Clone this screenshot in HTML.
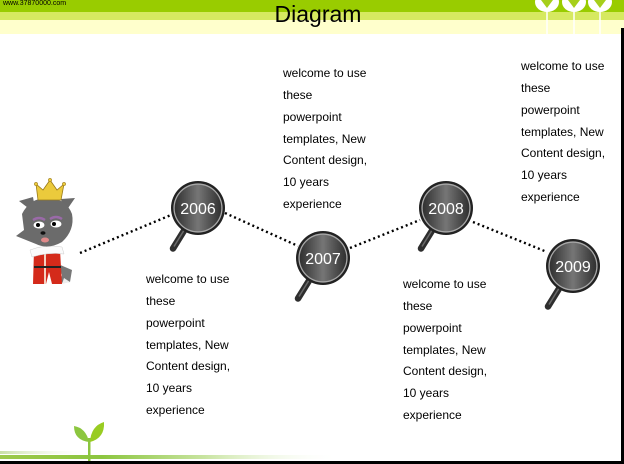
<!DOCTYPE html>
<html>
<head>
<meta charset="utf-8">
<style>
  html,body{margin:0;padding:0;background:#fff;}
  body{width:624px;height:464px;overflow:hidden;}
  svg{display:block;}
  .t{font-family:"Liberation Sans",Arial,sans-serif;font-size:12px;fill:#000;}
  .y{font-family:"Liberation Sans",Arial,sans-serif;font-size:16px;fill:#fff;text-anchor:middle;}
</style>
</head>
<body>
<svg width="624" height="464" viewBox="0 0 624 464" xmlns="http://www.w3.org/2000/svg">
  <defs>
    <linearGradient id="lens" x1="0" y1="0" x2="1" y2="0">
      <stop offset="0" stop-color="#303030"/>
      <stop offset="0.5" stop-color="#767676"/>
      <stop offset="1" stop-color="#303030"/>
    </linearGradient>
    <linearGradient id="gline" x1="0" y1="0" x2="1" y2="0">
      <stop offset="0" stop-color="#9cc84a"/>
      <stop offset="0.3" stop-color="#8cc63f"/>
      <stop offset="0.6" stop-color="#c8e4a0"/>
      <stop offset="1" stop-color="#ffffff" stop-opacity="0"/>
    </linearGradient>
    <linearGradient id="gline2" x1="0" y1="0" x2="1" y2="0">
      <stop offset="0" stop-color="#c9dfa6"/>
      <stop offset="1" stop-color="#ffffff" stop-opacity="0"/>
    </linearGradient>
    <g id="mag">
      <line x1="-10.6" y1="17.2" x2="-25" y2="40.5" stroke="#2e2e2e" stroke-width="6.5" stroke-linecap="round"/>
      <line x1="-12" y1="19" x2="-24" y2="38.5" stroke="#6a6a6a" stroke-width="1.5"/>
      <circle r="27" fill="#222"/>
      <circle r="24.6" fill="#a8a8a8"/>
      <circle r="23.3" fill="url(#lens)"/>
    </g>
  </defs>

  <!-- header -->
  <rect x="0" y="0" width="624" height="12" fill="#99cc00"/>
  <rect x="0" y="12" width="624" height="8" fill="#d6e960"/>
  <rect x="0" y="20" width="624" height="14" fill="#ffffcc"/>
  <text x="3" y="5" font-family="Liberation Sans, Arial, sans-serif" font-size="7" fill="#000">www.37870000.com</text>

  <!-- trees -->
  <g fill="#ffffff">
    <rect x="546" y="6" width="2" height="29" opacity="0.75"/>
    <rect x="573" y="6" width="2" height="29" opacity="0.75"/>
    <rect x="599" y="6" width="2" height="29" opacity="0.75"/>
    <ellipse cx="547" cy="2" rx="12" ry="10"/>
    <ellipse cx="574" cy="2" rx="12" ry="10"/>
    <ellipse cx="600" cy="2" rx="12" ry="10"/>
  </g>
  <g fill="#a6cf1a">
    <path d="M541 0 L547 8 L553 0 Z"/>
    <path d="M568 0 L574 8 L580 0 Z"/>
    <path d="M594 0 L600 8 L606 0 Z"/>
  </g>

  <text x="318" y="22" text-anchor="middle" font-family="Liberation Sans, Arial, sans-serif" font-size="23" fill="#000">Diagram</text>

  <!-- dotted connectors -->
  <g stroke="#000" stroke-width="2.4" stroke-dasharray="2 3" fill="none">
    <line x1="80" y1="253" x2="171" y2="215"/>
    <line x1="225" y1="213" x2="298" y2="246"/>
    <line x1="350" y1="248" x2="420" y2="220"/>
    <line x1="473" y1="222" x2="547" y2="252"/>
  </g>

  <!-- magnifiers -->
  <use href="#mag" x="198" y="208"/>
  <use href="#mag" x="323" y="258"/>
  <use href="#mag" x="446" y="208"/>
  <use href="#mag" x="573" y="266"/>
  <text class="y" x="198" y="214">2006</text>
  <text class="y" x="323" y="264">2007</text>
  <text class="y" x="446" y="214">2008</text>
  <text class="y" x="573" y="272">2009</text>

  <!-- text blocks -->
  <g class="t">
    <text x="146" y="283">welcome to use</text>
    <text x="146" y="305">these</text>
    <text x="146" y="327">powerpoint</text>
    <text x="146" y="349">templates, New</text>
    <text x="146" y="370">Content design,</text>
    <text x="146" y="392">10 years</text>
    <text x="146" y="414">experience</text>
  </g>
  <g class="t">
    <text x="283" y="77">welcome to use</text>
    <text x="283" y="99">these</text>
    <text x="283" y="121">powerpoint</text>
    <text x="283" y="143">templates, New</text>
    <text x="283" y="164">Content design,</text>
    <text x="283" y="186">10 years</text>
    <text x="283" y="208">experience</text>
  </g>
  <g class="t">
    <text x="403" y="288">welcome to use</text>
    <text x="403" y="310">these</text>
    <text x="403" y="332">powerpoint</text>
    <text x="403" y="354">templates, New</text>
    <text x="403" y="375">Content design,</text>
    <text x="403" y="397">10 years</text>
    <text x="403" y="419">experience</text>
  </g>
  <g class="t">
    <text x="521" y="70">welcome to use</text>
    <text x="521" y="92">these</text>
    <text x="521" y="114">powerpoint</text>
    <text x="521" y="136">templates, New</text>
    <text x="521" y="157">Content design,</text>
    <text x="521" y="179">10 years</text>
    <text x="521" y="201">experience</text>
  </g>

  <!-- fox -->
  <g>
    <path d="M58 264 L72 270 L70 282 L60 283 L62 275 Z" fill="#777"/>
    <path d="M64 278 L70 282 L62 284 Z" fill="#eee"/>
    <path d="M34 250 L60 250 L62 284 L52 284 L49 272 L46 284 L33 284 Z" fill="#d42a1a"/>
    <rect x="44" y="254" width="2" height="30" fill="#f4d0c0"/>
    <rect x="34" y="266" width="27" height="2" fill="#222"/>
    <path d="M30 250 Q45 244 62 247 L64 254 Q48 252 32 257 Z" fill="#fafafa" stroke="#ccc" stroke-width="0.5"/>
    <path d="M19 201 L33 197 L36 214 Z" fill="#6a6a6a"/>
    <path d="M75 198 L61 199 L64 214 Z" fill="#6a6a6a"/>
    <path d="M22 214 Q30 198 47 198 Q66 198 72 214 Q75 230 62 242 Q48 250 36 244 L26 240 L16 236 L24 230 Z" fill="#6b6b6b"/>
    <path d="M33 220 Q39 216 45 220" stroke="#9a6aa8" stroke-width="2.5" fill="none"/>
    <path d="M50 219 Q56 215 62 219" stroke="#9a6aa8" stroke-width="2.5" fill="none"/>
    <ellipse cx="39" cy="225" rx="5.5" ry="3.5" fill="#fff"/>
    <ellipse cx="56" cy="224" rx="5.5" ry="3.5" fill="#fff"/>
    <circle cx="38" cy="225" r="2" fill="#000"/>
    <circle cx="54" cy="224" r="2" fill="#000"/>
    <ellipse cx="43" cy="233" rx="2.5" ry="1.8" fill="#111"/>
    <ellipse cx="45" cy="240" rx="4" ry="2.5" fill="#e08a8a"/>
    <path d="M38 200 L36 184 L43 190 L50 180 L57 190 L64 184 L61 200 Z" fill="#ebca3c" stroke="#9a7a18" stroke-width="0.8"/>
    <circle cx="36" cy="184" r="1.6" fill="#ebca3c" stroke="#9a7a18" stroke-width="0.6"/>
    <circle cx="50" cy="180" r="1.6" fill="#ebca3c" stroke="#9a7a18" stroke-width="0.6"/>
    <circle cx="64" cy="184" r="1.6" fill="#ebca3c" stroke="#9a7a18" stroke-width="0.6"/>
  </g>

  <!-- bottom decoration -->
  <rect x="0" y="451" width="92" height="3" fill="url(#gline2)"/>
  <rect x="0" y="455" width="340" height="4" fill="url(#gline)"/>
  <rect x="88" y="438" width="2.5" height="23" fill="#8cc63f"/>
  <path d="M89 442 Q74 440 74 426 Q86 428 89 442 Z" fill="#8cc63f"/>
  <path d="M90 442 Q105 438 104 422 Q91 426 90 442 Z" fill="#99cc22"/>

  <!-- borders -->
  <rect x="621" y="28" width="3" height="436" fill="#000"/>
  <rect x="0" y="461" width="624" height="3" fill="#000"/>
</svg>
</body>
</html>
